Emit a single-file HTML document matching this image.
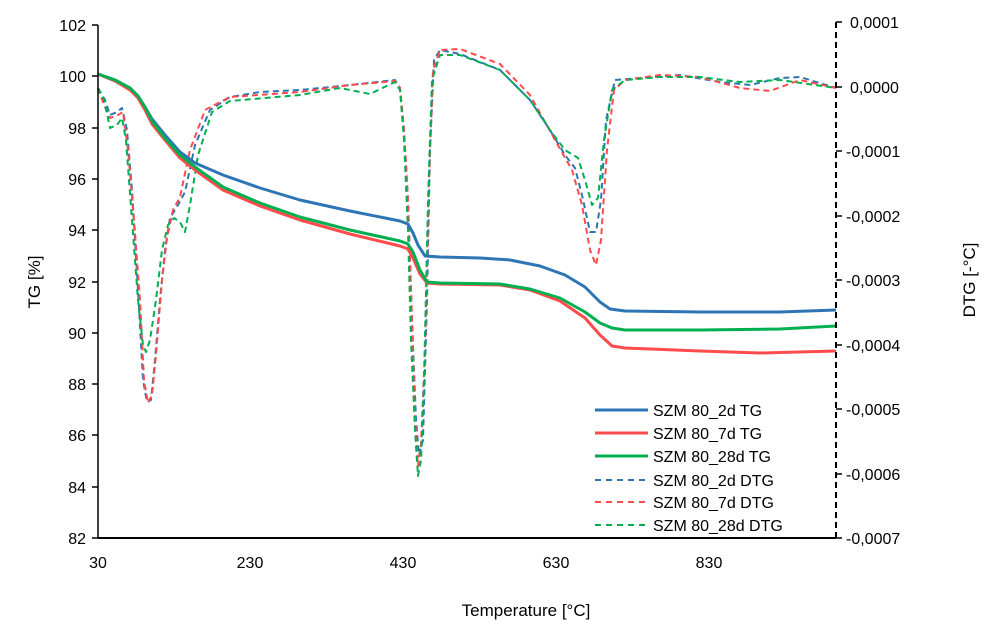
<!DOCTYPE html>
<html><head><style>body{margin:0;background:#fff}svg{display:block}text{font-family:"Liberation Sans",Arial,sans-serif;font-size:16px;fill:#000}</style></head><body>
<svg width="987" height="633" xmlns="http://www.w3.org/2000/svg">
<g fill="none" stroke-linejoin="round">
<!-- DTG dashed -->
<polyline stroke="#2e75b6" stroke-width="2" stroke-dasharray="6,4" points="98,88 105,100 110,115 117,112 122,108 127,130 132,190 138,290 143,380 147,402 151,400 155,360 160,300 165,250 170,218 178,205 185,192 195,145 210,110 230,97 260,92 300,90 350,85 395,80 400,88 404,130 408,200 412,320 416,420 419,455 423,440 427,300 430,150 434,60 440,50 460,54 500,70 530,100 550,130 565,155 575,168 582,195 590,232 596,232 601,200 606,120 615,80 640,78 680,75 720,82 750,85 780,78 800,77 836,88"/>
<polyline stroke="#ff4b4b" stroke-width="2" stroke-dasharray="6,4" points="98,88 104,105 110,118 118,115 123,112 128,150 134,220 140,300 144,380 148,403 152,395 156,355 162,280 167,238 173,210 180,197 190,150 205,110 230,97 300,92 350,85 395,81 400,88 404,130 408,200 412,320 415,420 418,466 421,445 425,350 429,180 433,70 440,50 460,49 500,64 530,95 555,140 572,170 582,205 590,250 596,265 601,240 607,150 614,90 625,80 660,75 700,77 740,88 770,91 800,80 836,88"/>
<polyline stroke="#00b050" stroke-width="2" stroke-dasharray="6,4" points="98,88 104,100 110,128 117,125 122,118 126,140 132,220 138,300 143,345 146,352 150,340 156,300 162,250 168,225 174,218 180,222 185,232 190,205 198,155 212,112 230,101 300,95 340,88 370,94 395,82 400,90 404,140 408,230 411,340 415,430 418,476 421,460 424,380 428,200 432,80 440,55 460,55 500,70 530,100 550,130 565,150 578,158 585,180 592,205 598,198 604,140 612,90 625,80 660,77 700,77 740,82 780,80 836,88"/>
<!-- TG solid -->
<polyline stroke="#2e75b6" stroke-width="3" points="98,74 115,80 130,88 138,96 145,107 152,119 165,135 180,152 195,163 223,175 260,188 300,200 350,211 400,221 408,224 413,233 418,245 425,256 440,257 480,258 510,260 540,266 565,275 585,287 600,302 610,309 625,311 700,312 780,312 836,310"/>
<polyline stroke="#ff4b4b" stroke-width="3" points="98,74 115,81 130,90 138,98 145,110 152,124 165,140 180,158 195,170 223,190 260,206 300,220 350,234 400,246 408,249 413,258 420,274 427,283 440,284 500,285 530,290 560,301 585,318 600,335 612,346 625,348 700,351 760,353 836,351"/>
<polyline stroke="#00b050" stroke-width="3" points="98,74 115,80 130,88 138,96 145,107 152,121 165,138 180,155 195,167 223,187 260,203 300,217 350,230 400,241 408,244 413,252 420,270 427,282 440,283 500,284 530,289 560,298 585,312 600,323 612,328 625,330 700,330 780,329 836,326"/>
</g>
<!-- axes -->
<line x1="98" y1="25" x2="98" y2="538" stroke="#000" stroke-width="1.5"/>
<line x1="98" y1="538" x2="836" y2="538" stroke="#000" stroke-width="2"/>
<line x1="836" y1="22" x2="836" y2="538" stroke="#000" stroke-width="2" stroke-dasharray="6,4"/>
<g stroke="#000" stroke-width="1.5">
<line x1="92" y1="25" x2="98" y2="25"/><line x1="92" y1="76" x2="98" y2="76"/><line x1="92" y1="128" x2="98" y2="128"/><line x1="92" y1="179" x2="98" y2="179"/><line x1="92" y1="230" x2="98" y2="230"/><line x1="92" y1="282" x2="98" y2="282"/><line x1="92" y1="333" x2="98" y2="333"/><line x1="92" y1="384" x2="98" y2="384"/><line x1="92" y1="435" x2="98" y2="435"/><line x1="92" y1="487" x2="98" y2="487"/><line x1="92" y1="538" x2="98" y2="538"/>
<line x1="836" y1="22" x2="842" y2="22"/><line x1="836" y1="87" x2="842" y2="87"/><line x1="836" y1="151" x2="842" y2="151"/><line x1="836" y1="216" x2="842" y2="216"/><line x1="836" y1="280" x2="842" y2="280"/><line x1="836" y1="345" x2="842" y2="345"/><line x1="836" y1="409" x2="842" y2="409"/><line x1="836" y1="474" x2="842" y2="474"/><line x1="836" y1="538" x2="842" y2="538"/>
</g>
<g text-anchor="end">
<text x="86" y="31">102</text><text x="86" y="82">100</text><text x="86" y="134">98</text><text x="86" y="185">96</text><text x="86" y="236">94</text><text x="86" y="288">92</text><text x="86" y="339">90</text><text x="86" y="390">88</text><text x="86" y="441">86</text><text x="86" y="493">84</text><text x="86" y="544">82</text>
</g>
<g>
<text x="850" y="28">0,0001</text><text x="850" y="93">0,0000</text><text x="846" y="157">-0,0001</text><text x="846" y="222">-0,0002</text><text x="846" y="286">-0,0003</text><text x="846" y="351">-0,0004</text><text x="846" y="415">-0,0005</text><text x="846" y="480">-0,0006</text><text x="846" y="544">-0,0007</text>
</g>
<g text-anchor="middle">
<text x="98" y="568">30</text><text x="250" y="568">230</text><text x="403" y="568">430</text><text x="556" y="568">630</text><text x="709" y="568">830</text>
<text x="526" y="616" style="font-size:17px">Temperature [°C]</text>
<text transform="translate(40,282) rotate(-90)" style="font-size:17px">TG [%]</text>
<text transform="translate(975,280) rotate(-90)" style="font-size:17px">DTG [-°C]</text>
</g>
<!-- legend -->
<g stroke-width="3">
<line x1="595" y1="410" x2="648" y2="410" stroke="#2e75b6"/>
<line x1="595" y1="433" x2="648" y2="433" stroke="#ff4b4b"/>
<line x1="595" y1="456" x2="648" y2="456" stroke="#00b050"/>
</g>
<g stroke-width="2" stroke-dasharray="6,5">
<line x1="595" y1="480" x2="648" y2="480" stroke="#2e75b6"/>
<line x1="595" y1="502" x2="648" y2="502" stroke="#ff4b4b"/>
<line x1="595" y1="525" x2="648" y2="525" stroke="#00b050"/>
</g>
<g>
<text x="653" y="416">SZM 80_2d TG</text><text x="653" y="439">SZM 80_7d TG</text><text x="653" y="462">SZM 80_28d TG</text><text x="653" y="486">SZM 80_2d DTG</text><text x="653" y="508">SZM 80_7d DTG</text><text x="653" y="531">SZM 80_28d DTG</text>
</g>
</svg>
</body></html>
